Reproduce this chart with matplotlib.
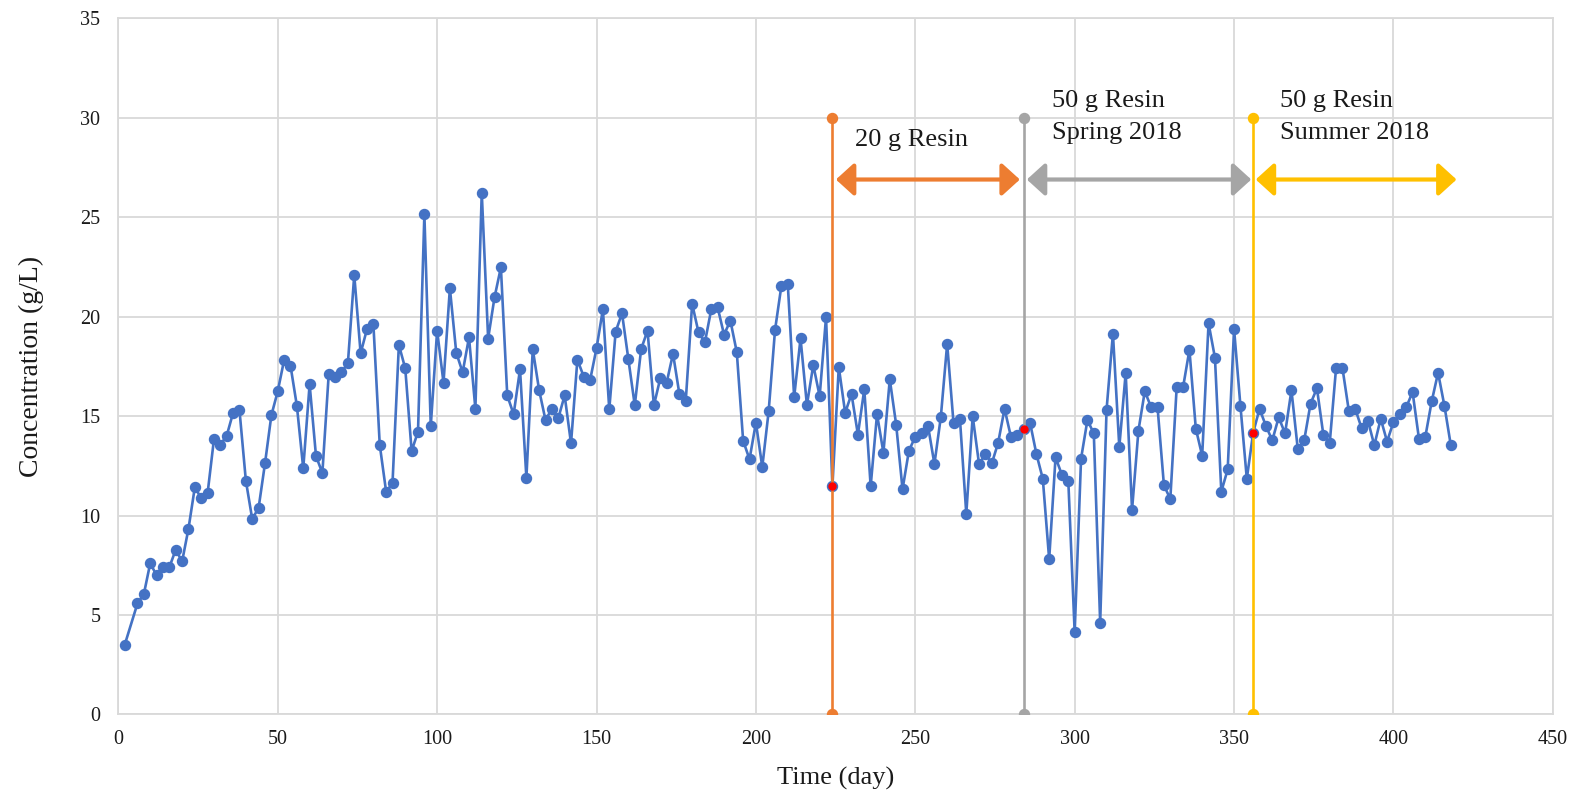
import matplotlib
matplotlib.use('Agg')
import matplotlib.pyplot as plt

plt.rcParams['font.family'] = ['Liberation Serif', 'DejaVu Serif']

# sampling days and measured concentration (g/L)
days = [2, 6, 8, 10, 12, 14, 16, 18, 20, 22, 24, 26, 28, 30, 32, 34, 36, 38, 40,
        42, 44, 46, 48, 50, 52, 54, 56, 58, 60, 62, 64, 66, 68, 70, 72, 74, 76,
        78, 80, 82, 84, 86, 88, 90, 92, 94, 96, 98, 100, 102, 104, 106, 108,
        110, 112, 114, 116, 118, 120, 122, 124, 126, 128, 130, 132, 134, 136,
        138, 140, 142, 144, 146, 148, 150, 152, 154, 156, 158, 160, 162, 164,
        166, 168, 170, 172, 174, 176, 178, 180, 182, 184, 186, 188, 190, 192,
        194, 196, 198, 200, 202, 204, 206, 208, 210, 212, 214, 216, 218, 220,
        222, 224, 226, 228, 230, 232, 234, 236, 238, 240, 242, 244, 246, 248,
        250, 252, 254, 256, 258, 260, 262, 264, 266, 268, 270, 272, 274, 276,
        278, 280, 282, 284, 286, 288, 290, 292, 294, 296, 298, 300, 302, 304,
        306, 308, 310, 312, 314, 316, 318, 320, 322, 324, 326, 328, 330, 332,
        334, 336, 338, 340, 342, 344, 346, 348, 350, 352, 354, 356, 358, 360,
        362, 364, 366, 368, 370, 372, 374, 376, 378, 380, 382, 384, 386, 388,
        390, 392, 394, 396, 398, 400, 402, 404, 406, 408, 410, 412, 414, 416, 418]

conc = [3.50, 5.58, 6.05, 7.60, 6.99, 7.43, 7.40, 8.28, 7.69, 9.34, 11.43, 10.86,
        11.13, 13.85, 13.55, 14.02, 15.17, 15.29, 11.75, 9.82, 10.39, 12.62, 15.04,
        16.25, 17.82, 17.54, 15.52, 12.37, 16.60, 12.99, 12.14, 17.13, 16.98, 17.22,
        17.65, 22.10, 18.16, 19.38, 19.63, 13.55, 11.20, 11.62, 18.58, 17.40, 13.24,
        14.22, 25.15, 14.50, 19.30, 16.68, 21.43, 18.19, 17.20, 18.96, 15.37, 26.24,
        18.90, 20.97, 22.48, 16.04, 15.09, 17.35, 11.90, 18.37, 16.30, 14.80, 15.37,
        14.89, 16.04, 13.63, 17.84, 16.98, 16.82, 18.41, 20.37, 15.34, 19.25, 20.17,
        17.86, 15.54, 18.37, 19.30, 15.54, 16.90, 16.68, 18.14, 16.11, 15.78, 20.65,
        19.21, 18.71, 20.37, 20.47, 19.10, 19.80, 18.22, 13.76, 12.83, 14.67, 12.44,
        15.24, 19.33, 21.56, 21.64, 15.95, 18.91, 15.56, 17.57, 16.00, 19.98, 11.47,
        17.47, 15.17, 16.11, 14.07, 16.35, 11.47, 15.10, 13.16, 16.85, 14.57, 11.32,
        13.26, 13.96, 14.17, 14.50, 12.59, 14.94, 18.63, 14.64, 14.87, 10.08, 15.00,
        12.59, 13.09, 12.62, 13.66, 15.37, 13.96, 14.05, 14.33, 14.67, 13.09, 11.85,
        7.80, 12.93, 12.04, 11.75, 4.12, 12.86, 14.80, 14.13, 4.61, 15.32, 19.15,
        13.45, 17.17, 10.29, 14.27, 16.25, 15.44, 15.44, 11.52, 10.83, 16.45, 16.45,
        18.33, 14.37, 13.01, 19.67, 17.94, 11.20, 12.32, 19.38, 15.51, 11.85, 14.17,
        15.37, 14.50, 13.78, 14.94, 14.13, 16.30, 13.33, 13.78, 15.63, 16.40, 14.07,
        13.63, 17.42, 17.42, 15.27, 15.37, 14.40, 14.77, 13.53, 14.87, 13.72, 14.70,
        15.10, 15.44, 16.21, 13.87, 13.96, 15.74, 17.18, 15.51, 13.53]

# resin changes: day, colour, arrow span, label
switch_days = [224, 284, 356]
switch_colors = ['#ED7D31', '#A5A5A5', '#FFC000']
line_span = [0, 30]
arrow_starts = [225.1, 285.0, 356.8]
arrow_ends = [282.8, 355.4, 419.8]
arrow_level = 26.9
labels = ['20 g Resin', '50 g Resin\nSpring 2018', '50 g Resin\nSummer 2018']
label_x = [231, 292.8, 364.5]
label_y = [28.9, 30.05, 30.05]

fig = plt.figure(figsize=(15.76, 7.93), dpi=100)
ax = fig.add_axes([0.0751, 0.0992, 0.9102, 0.8775])

ax.plot(days, conc, color='#4472C4', lw=1.9, marker='o', ms=7.2, zorder=3)

for d, c, x0, x1, txt, tx, ty in zip(switch_days, switch_colors, arrow_starts,
                                      arrow_ends, labels, label_x, label_y):
    ax.plot([d, d], line_span, color=c, lw=1.9, marker='o', ms=7.2, zorder=4)
    ax.plot(d, conc[days.index(d)], 'o', color='red', ms=5, zorder=5)
    ax.annotate('', xy=(x1, arrow_level), xytext=(x0, arrow_level),
                arrowprops=dict(arrowstyle='<|-|>,head_length=0.55,head_width=0.5',
                                color=c, lw=3, mutation_scale=20,
                                shrinkA=0, shrinkB=0), zorder=4)
    ax.text(tx, ty, txt, fontsize=19, ha='left', va='center', linespacing=1.55,
            color='#1a1a1a')

ax.set_xlim(0, 450)
ax.set_ylim(0, 35)
ax.set_xticks(range(0, 451, 50))
ax.set_yticks(range(0, 36, 5))
ax.grid(True, color='#D9D9D9', lw=1.3)
ax.set_axisbelow(True)
for s in ax.spines.values():
    s.set_color('#D9D9D9')
    s.set_linewidth(1.3)
ax.tick_params(length=0, labelsize=14.5, labelcolor='#1a1a1a')
ax.tick_params(axis='y', pad=13)
ax.tick_params(axis='x', pad=11)
ax.set_xlabel('Time (day)', fontsize=19, color='#1a1a1a', labelpad=13)
ax.set_ylabel('Concentration (g/L)', fontsize=20, color='#1a1a1a', labelpad=26)

fig.savefig('out.png', dpi=100)
